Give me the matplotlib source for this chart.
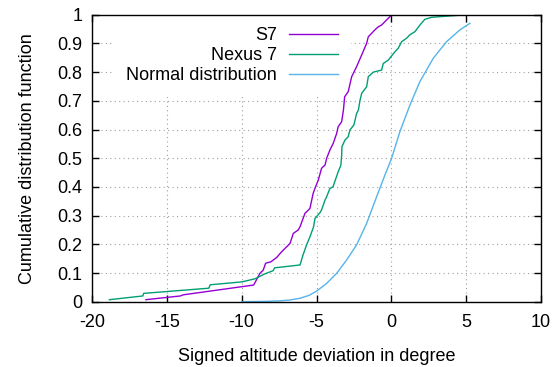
import matplotlib
matplotlib.use("Agg")
import matplotlib.pyplot as plt

# Data
s7_x = [-16.4, -14.1, -13.9, -9.2, -8.9, -8.78, -8.56, -8.4, -8.05, -7.66, -7.4, -7.1,
        -6.77, -6.55, -6.22, -6.1, -5.77, -5.55, -5.44, -5.32, -5.22, -5.1, -4.88, -4.66,
        -4.43, -4.32, -4.1, -3.88, -3.65, -3.55, -3.32, -3.2, -3.12, -2.88, -2.65, -2.32,
        -1.98, -1.65, -1.54, -1.1, -0.87, -0.65, -0.31, -0.1, 0.02]
s7_y = [0.007, 0.02, 0.024, 0.058, 0.087, 0.099, 0.11, 0.134, 0.139, 0.154, 0.17, 0.186,
        0.203, 0.238, 0.25, 0.261, 0.308, 0.319, 0.325, 0.354, 0.378, 0.395, 0.424, 0.465,
        0.476, 0.50, 0.529, 0.552, 0.587, 0.61, 0.627, 0.668, 0.714, 0.732, 0.784, 0.819,
        0.86, 0.90, 0.923, 0.947, 0.958, 0.964, 0.982, 0.993, 1.0]

nexus_x = [-18.84, -16.6, -16.55, -12.2, -12.1, -9.98, -9.1, -8.9, -8.5, -7.9, -7.8, -6.1,
           -5.9, -5.66, -5.44, -5.2, -5.1, -4.77, -4.66, -4.43, -4.32, -4.1, -3.9, -3.55,
           -3.37, -3.32, -3.3, -3.1, -2.88, -2.77, -2.5, -2.32, -2.2, -2.1, -1.98, -1.65,
           -1.54, -1.2, -0.65, -0.54, -0.2, 0.24, 0.46, 0.69, 1.02, 1.24, 1.58, 1.91, 2.24,
           2.69, 5.03]
nexus_y = [0.007, 0.02, 0.029, 0.047, 0.059, 0.069, 0.08, 0.085, 0.096, 0.108, 0.118, 0.128,
           0.163, 0.198, 0.226, 0.26, 0.29, 0.31, 0.32, 0.354, 0.366, 0.395, 0.40, 0.453,
           0.476, 0.51, 0.54, 0.563, 0.575, 0.598, 0.616, 0.656, 0.668, 0.70, 0.726, 0.749,
           0.784, 0.80, 0.807, 0.83, 0.842, 0.871, 0.883, 0.906, 0.918, 0.93, 0.941, 0.964,
           0.984, 0.991, 1.0]

normal_x = [-10.0, -8.5, -7.44, -6.77, -6.1, -5.5, -4.99, -4.32, -3.65, -2.99, -2.32,
            -1.65, -0.98, -0.43, 0.02, 0.57, 1.24, 1.91, 2.8, 3.69, 4.58, 5.25]
normal_y = [0.0001, 0.001, 0.003, 0.006, 0.012, 0.022, 0.037, 0.064, 0.099, 0.145, 0.198,
            0.273, 0.366, 0.441, 0.50, 0.592, 0.685, 0.767, 0.848, 0.906, 0.947, 0.97]

x_ticks = [-20, -15, -10, -5, 0, 5, 10]
y_ticks = [0, 0.1, 0.2, 0.3, 0.4, 0.5, 0.6, 0.7, 0.8, 0.9, 1]
y_tick_labels = ["0", "0.1", "0.2", "0.3", "0.4", "0.5", "0.6", "0.7", "0.8", "0.9", "1"]

plt.rcParams['font.family'] = ['Liberation Sans', 'DejaVu Sans']
FS = 13

fig = plt.figure(figsize=(5.6, 3.67), dpi=100)
ax = fig.add_axes([92 / 560, 1 - 301.7 / 367, (541 - 92) / 560, (301.7 - 14.7) / 367])

ax.plot(s7_x, s7_y, color='#9400D3', lw=1.0, label='S7', zorder=3)
ax.plot(nexus_x, nexus_y, color='#009E73', lw=1.0, label='Nexus 7', zorder=3)
ax.plot(normal_x, normal_y, color='#56B4E9', lw=1.0, label='Normal distribution', zorder=3)

ax.set_xlim(-20, 10)
ax.set_ylim(0, 1)
ax.set_xticks(x_ticks)
ax.set_xticklabels([str(t) for t in x_ticks])
ax.set_yticks(y_ticks)
ax.set_yticklabels(y_tick_labels)
ax.tick_params(direction='in', top=True, right=True, length=5, width=1,
               labelsize=FS, colors='black')
ax.tick_params(axis='x', pad=9)
ax.tick_params(axis='y', pad=7)
ax.grid(True, color='#a0a0a0', linestyle=(0, (1, 3)), linewidth=0.8)
ax.set_axisbelow(True)
for sp in ax.spines.values():
    sp.set_linewidth(1.0)
    sp.set_color('black')
    sp.set_zorder(4)

ax.set_xlabel('Signed altitude deviation in degree', fontsize=FS, labelpad=12)
ax.set_ylabel('Cumulative distribution function', fontsize=FS, labelpad=15.5)

leg = ax.legend(loc='upper right', bbox_to_anchor=(0.576, 1.0), markerfirst=False,
                frameon=True, fontsize=FS, handlelength=2.7, handletextpad=0.67,
                labelspacing=0.17, borderaxespad=0.0, borderpad=0.7)
leg.get_frame().set_facecolor('white')
leg.get_frame().set_edgecolor('none')
leg.get_frame().set_alpha(1.0)
for t in leg.get_texts():
    t.set_ha('right')
leg._legend_box.align = 'right'
leg.set_zorder(2)

fig.savefig('out.png', dpi=100)
